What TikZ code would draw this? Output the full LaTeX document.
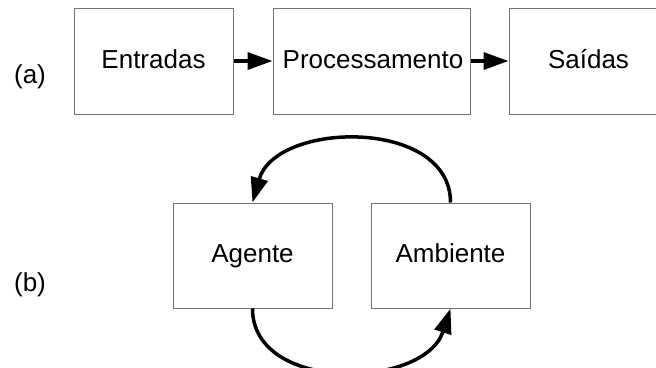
\documentclass[tikz,border=0pt]{standalone}
\usepackage{fontspec}
\setmainfont{Liberation Sans}
\usetikzlibrary{arrows.meta}
\begin{document}
\begin{tikzpicture}[x=1pt,y=1pt,font=\fontsize{26}{31}\selectfont,
   box/.style={draw=black!55,line width=1pt,minimum width=159pt,minimum height=106pt,inner sep=0pt,text height=19pt,text depth=5pt},
   flow/.style={line width=3.5pt,-{Triangle[length=25pt,width=17pt]}}]
\useasboundingbox (0,0) rectangle (656,-367);
\node (la) at (30,-77) {(a)};
\node[box] (ent) at (153.5,-61) {Entradas};
\node[box,minimum width=197pt] (proc) at (371.5,-61) {\hspace{3pt}Processamento};
\node[box] (sai) at (588.5,-61) {Saídas};
\draw[flow] (ent) -- (proc);
\draw[flow] (proc) -- (sai);
\node (lb) at (30,-285) {(b)};
\node[box,minimum height=105pt] (ag) at (252.5,-255.5) {Agente};
\node[box,minimum height=105pt] (amb) at (450.5,-255.5) {Ambiente};
\draw[flow] (amb.north) to[out=90,in=74,looseness=1.1] (ag.north);
\draw[flow] (ag.south) to[out=-90,in=-108,looseness=1.1] (amb.south);
\end{tikzpicture}
\end{document}
